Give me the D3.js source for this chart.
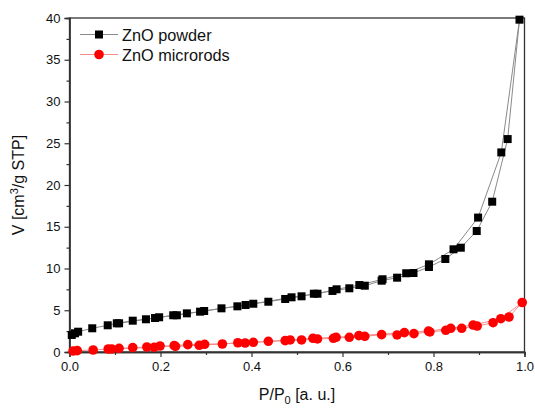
<!DOCTYPE html>
<html>
<head>
<meta charset="utf-8">
<script src="https://cdn.jsdelivr.net/npm/d3@7"></script>
<style>
  html, body { margin: 0; padding: 0; background: #fff; }
  svg { display: block; font-family: "Liberation Sans", Arial, sans-serif; }
</style>
</head>
<body>
<svg id="chart" width="535" height="409"></svg>
<script>
// ZnO powder: adsorption branch then desorption branch (P/P0, V)
const powderP = [0.005, 0.012, 0.019, 0.050, 0.084, 0.104, 0.139, 0.168, 0.188, 0.228,
  0.258, 0.287, 0.334, 0.369, 0.404, 0.437, 0.474, 0.510, 0.537, 0.578,
  0.615, 0.649, 0.686, 0.720, 0.756, 0.790, 0.826, 0.860, 0.895, 0.929,
  0.963, 0.989,
  0.949, 0.898, 0.844, 0.790, 0.740, 0.688, 0.637, 0.587, 0.545, 0.488,
  0.387, 0.296, 0.236, 0.197, 0.109];
const powderV = [2.04, 2.24, 2.43, 2.84, 3.20, 3.44, 3.75, 3.92, 4.07, 4.40,
  4.63, 4.83, 5.23, 5.47, 5.78, 6.02, 6.35, 6.67, 6.98, 7.31,
  7.63, 7.94, 8.54, 8.90, 9.46, 10.18, 11.14, 12.49, 14.49, 18.0,
  25.5, 39.8,
  23.9, 16.1, 12.3, 10.5, 9.43, 8.71, 8.02, 7.51, 6.98, 6.55,
  5.63, 4.91, 4.40, 4.16, 3.44];

// ZnO microrods: adsorption branch then desorption branch
const rodsP = [0.008, 0.017, 0.052, 0.085, 0.109, 0.139, 0.170, 0.199, 0.233, 0.285,
  0.336, 0.370, 0.404, 0.437, 0.474, 0.510, 0.545, 0.580, 0.615, 0.649,
  0.686, 0.720, 0.757, 0.792, 0.827, 0.862, 0.896, 0.931, 0.966, 0.995,
  0.948, 0.887, 0.838, 0.789, 0.736, 0.636, 0.586, 0.535, 0.485, 0.386,
  0.297, 0.260, 0.230, 0.186, 0.093];
const rodsV = [0.12, 0.16, 0.24, 0.36, 0.44, 0.52, 0.60, 0.72, 0.68, 0.80,
  0.96, 1.11, 1.16, 1.28, 1.36, 1.44, 1.56, 1.64, 1.76, 1.88,
  2.08, 2.04, 2.20, 2.40, 2.60, 2.84, 3.11, 3.51, 4.19, 5.93,
  3.99, 3.23, 2.84, 2.51, 2.32, 1.96, 1.76, 1.64, 1.44, 1.08,
  0.92, 0.88, 0.76, 0.56, 0.36];

const xMajor = [0.0, 0.2, 0.4, 0.6, 0.8, 1.0];
const xMinor = [0.1, 0.3, 0.5, 0.7, 0.9];
const yMajor = [0, 5, 10, 15, 20, 25, 30, 35, 40];
const yMinor = [2.5, 7.5, 12.5, 17.5, 22.5, 27.5, 32.5, 37.5];
const seriesNames = ["ZnO powder", "ZnO microrods"];

const svg = d3.select("#chart");
const L = 69.5, R = 524.5, T = 18, B = 352;
const x = d3.scaleLinear().domain([0, 1]).range([L, R]);
const y = d3.scaleLinear().domain([0, 40]).range([B, T]);

const axisColor = "#333";

// frame
svg.append("rect").attr("x", L).attr("y", T).attr("width", R - L).attr("height", B - T)
  .attr("fill", "none").attr("stroke", axisColor).attr("stroke-width", 1.3);

// x axis
svg.append("g").attr("transform", `translate(0,${B})`)
  .call(d3.axisBottom(x).tickValues(xMajor).tickSize(5).tickPadding(5).tickFormat(d3.format(".1f")));
svg.append("g").attr("transform", `translate(0,${B})`)
  .call(d3.axisBottom(x).tickValues(xMinor).tickSize(3).tickFormat(""));
// y axis
svg.append("g").attr("transform", `translate(${L},0)`)
  .call(d3.axisLeft(y).tickValues(yMajor).tickSize(5).tickPadding(4).tickFormat(d3.format("d")));
svg.append("g").attr("transform", `translate(${L},0)`)
  .call(d3.axisLeft(y).tickValues(yMinor).tickSize(3).tickFormat(""));

svg.selectAll(".domain").attr("stroke", axisColor).attr("stroke-width", 1.3);
svg.selectAll(".tick line").attr("stroke", axisColor).attr("stroke-width", 1.2);
svg.selectAll(".tick text").attr("font-size", 13).attr("fill", "#111")
  .attr("font-family", "Liberation Sans, Arial, sans-serif");

// axis titles
const xt = svg.append("text").attr("x", (L + R) / 2).attr("y", 400).attr("text-anchor", "middle")
  .attr("font-size", 16).attr("fill", "#111");
xt.append("tspan").text("P/P");
xt.append("tspan").text("0").attr("font-size", 11).attr("dy", 4);
xt.append("tspan").text(" [a. u.]").attr("dy", -4);

const yt = svg.append("text").attr("transform", `translate(24,${(T + B) / 2}) rotate(-90)`)
  .attr("text-anchor", "middle").attr("font-size", 16).attr("fill", "#111");
yt.append("tspan").text("V [cm");
yt.append("tspan").text("3").attr("font-size", 11).attr("dy", -6);
yt.append("tspan").text("/g STP]").attr("dy", 6);

// series
const line = d3.line().x(d => x(d[0])).y(d => y(d[1]));
const powder = powderP.map((p, i) => [p, powderV[i]]);
const rods = rodsP.map((p, i) => [p, rodsV[i]]);

svg.append("path").datum(powder).attr("d", line).attr("fill", "none")
  .attr("stroke", "#8a8a8a").attr("stroke-width", 1);
svg.append("path").datum(rods).attr("d", line).attr("fill", "none")
  .attr("stroke", "#f58a8a").attr("stroke-width", 1);

const sq = 8;
const cr = 4.8;
svg.append("g").selectAll("rect").data(powder).join("rect")
  .attr("x", d => x(d[0]) - sq / 2).attr("y", d => y(d[1]) - sq / 2)
  .attr("width", sq).attr("height", sq).attr("fill", "#000");
svg.append("g").selectAll("circle").data(rods).join("circle")
  .attr("cx", d => x(d[0])).attr("cy", d => y(d[1])).attr("r", cr).attr("fill", "#ff0000");

// legend
const leg = svg.append("g");
const rows = [
  { name: seriesNames[0], line: "#8a8a8a", type: "sq", y: 34.5 },
  { name: seriesNames[1], line: "#f58a8a", type: "ci", y: 54.5 }
];
rows.forEach(r => {
  leg.append("line").attr("x1", 80).attr("x2", 118).attr("y1", r.y).attr("y2", r.y)
    .attr("stroke", r.line).attr("stroke-width", 1);
  if (r.type === "sq") {
    leg.append("rect").attr("x", 99 - sq / 2).attr("y", r.y - sq / 2).attr("width", sq).attr("height", sq).attr("fill", "#000");
  } else {
    leg.append("circle").attr("cx", 99).attr("cy", r.y).attr("r", cr).attr("fill", "#ff0000");
  }
  leg.append("text").attr("x", 122).attr("y", r.y + 6).attr("font-size", 16.3).attr("fill", "#111").text(r.name);
});
</script>
</body>
</html>
